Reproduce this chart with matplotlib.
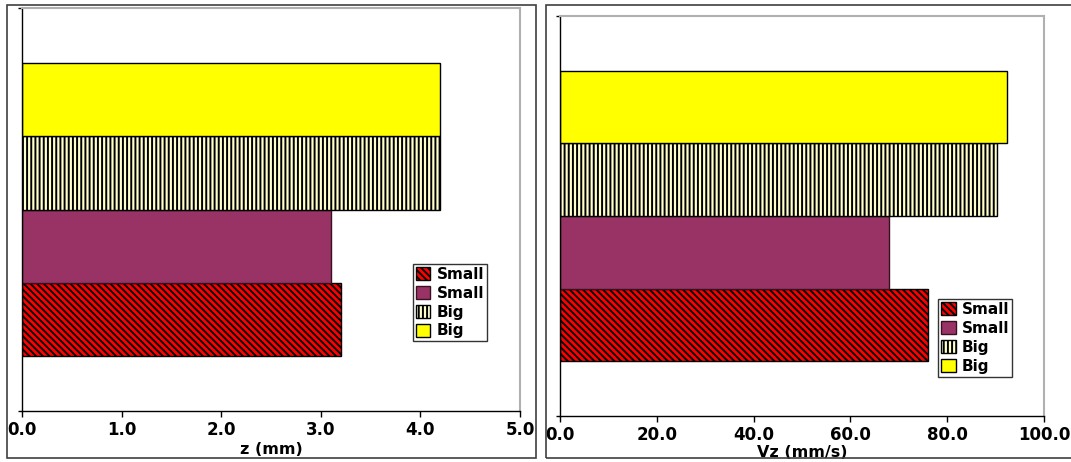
import matplotlib.pyplot as plt
from matplotlib.patches import Rectangle

# one bar per series, stacked bottom to top
labels = ['Small', 'Small', 'Big', 'Big']
z_mm = [3.2, 3.1, 4.2, 4.2]
vz_mms = [76.0, 68.0, 90.3, 92.4]
z_ticks = [0.0, 1.0, 2.0, 3.0, 4.0, 5.0]
vz_ticks = [0.0, 20.0, 40.0, 60.0, 80.0, 100.0]

colors = ['#ff0000', '#993366', '#ffffcc', '#ffff00']
hatches = ['\\\\\\\\\\', None, '||||', None]

plt.rcParams['font.family'] = 'DejaVu Sans'
plt.rcParams['font.weight'] = 'bold'
plt.rcParams['hatch.linewidth'] = 1.4

W, H = 1071, 462
fig = plt.figure(figsize=(W / 100, H / 100), dpi=100)

# outer frames round each panel
for x0, x1 in [(7, 536), (546, 1075)]:
    fig.patches.append(Rectangle((x0 / W, 1 - 458 / H), (x1 - x0) / W, (458 - 5) / H,
                                 transform=fig.transFigure, fill=False,
                                 edgecolor='#404040', linewidth=1.2))


def panel(rect, values, ticks, xlabel, leg_anchor, lpad):
    ax = fig.add_axes(rect)
    for i, v in enumerate(values):
        ax.barh(i, v, height=1.0, color=colors[i], hatch=hatches[i],
                edgecolor='black' if i != 1 else '#3a1020', linewidth=1.0,
                label=labels[i])
    ax.set_xlim(ticks[0], ticks[-1])
    ax.set_ylim(-1.253, 4.253)
    ax.set_xticks(ticks)
    ax.set_xticklabels(['{:.1f}'.format(t) for t in ticks], fontsize=12, fontweight='bold')
    ax.set_yticks([-1.253, 4.253])
    ax.set_yticklabels([])
    ax.tick_params(axis='x', direction='out', length=4, width=1, pad=3)
    ax.tick_params(axis='y', direction='out', length=3, width=1)
    ax.set_xlabel(xlabel, fontsize=11.5, fontweight='bold', labelpad=lpad)
    for s in ['top', 'right']:
        ax.spines[s].set_color('#b0b0b0')
        ax.spines[s].set_linewidth(1.5)
    for s in ['left', 'bottom']:
        ax.spines[s].set_color('black')
        ax.spines[s].set_linewidth(1.0)
    leg = ax.legend(loc='upper left', bbox_to_anchor=leg_anchor, fontsize=11,
                    frameon=True, fancybox=False, borderpad=0.2,
                    handlelength=0.95, handleheight=0.95, handletextpad=0.4,
                    labelspacing=0.25, borderaxespad=0)
    leg.get_frame().set_edgecolor('black')
    leg.get_frame().set_linewidth(1.0)
    for t in leg.get_texts():
        t.set_fontweight('bold')
    return ax


panel([22 / W, 1 - 411 / H, 498 / W, 403 / H], z_mm, z_ticks, 'z (mm)', (0.785, 0.365), 2)
panel([560 / W, 1 - 416 / H, 484 / W, 400 / H], vz_mms, vz_ticks, 'Vz (mm/s)', (0.781, 0.2925), 1)

fig.savefig('out.png', dpi=100)
